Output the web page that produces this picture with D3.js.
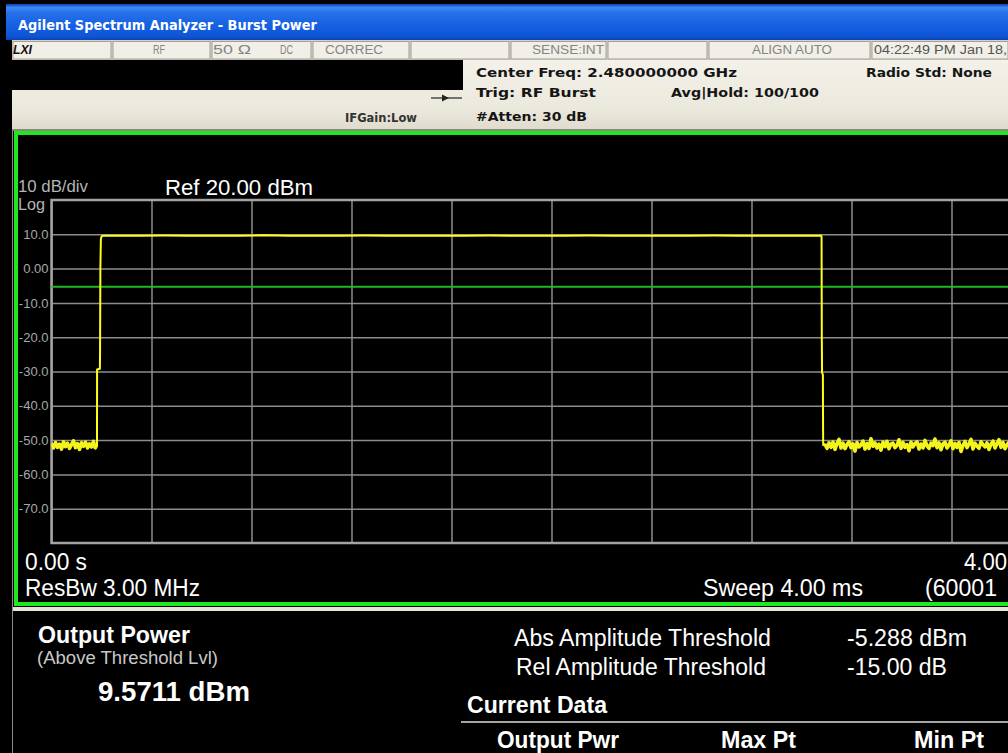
<!DOCTYPE html>
<html><head><meta charset="utf-8">
<script src="https://cdn.jsdelivr.net/npm/d3@7"></script>
<style>html,body{margin:0;padding:0;background:#000;overflow:hidden}svg{display:block}</style>
</head><body><svg id="c" width="1008" height="753"></svg>
<script>
// ---------------- data ----------------
const timeTicksMs = [0, 0.4, 0.8, 1.2, 1.6, 2.0, 2.4, 2.8, 3.2, 3.6, 4.0];
const ampTicksDbm = [10, 0, -10, -20, -30, -40, -50, -60, -70];
const ampTickLabels = ["10.0", "0.00", "-10.0", "-20.0", "-30.0", "-40.0", "-50.0", "-60.0", "-70.0"];
const refLevelDbm = 20;
const bottomLevelDbm = -80;
const sweepMs = 4.0;
const thresholdDbm = -5.288;
const sampleStepMs = 0.008;

// noise floor before the burst (starts at 0 ms)
const noiseLeftDbm = [-51.0, -52.3, -50.7, -52.1, -51.2, -52.6, -50.5, -51.9, -50.9, -52.4, -51.3, -50.2,
  -52.2, -51.0, -52.7, -50.8, -51.8, -50.6, -52.3, -51.1, -52.0, -50.4, -52.5];
// rising edge
const riseTimeMs = [0.182, 0.1823, 0.1935, 0.1942, 0.1955, 0.1975, 0.2005, 0.205];
const riseDbm = [-51.8, -29.4, -29.2, -25.0, 0.0, 8.6, 9.4, 9.6];
// burst plateau (from 0.25 ms every 0.1 ms)
const plateauStartMs = 0.25;
const plateauStepMs = 0.1;
const plateauDbm = [9.6, 9.55, 9.65, 9.6, 9.55, 9.6, 9.7, 9.55, 9.6, 9.6, 9.65, 9.55, 9.6, 9.6, 9.55,
  9.65, 9.6, 9.55, 9.6, 9.65, 9.6, 9.55, 9.6, 9.6, 9.65, 9.55, 9.6, 9.6, 9.55];
// falling edge
const fallTimeMs = [3.079, 3.0803, 3.0812, 3.0822, 3.0855, 3.0862, 3.0868, 3.09];
const fallDbm = [9.6, 9.2, -20.0, -30.3, -30.9, -45.0, -51.5, -51.2];
// noise floor after the burst (from 3.094 ms)
const noiseRightStartMs = 3.094;
const noiseRightDbm = [-51.2, -52.4, -50.8, -52.1, -50.6, -52.7, -51.0, -49.8, -52.3, -50.9,
  -52.5, -51.3, -50.5, -52.2, -51.1, -53.2, -50.7, -52.0, -51.4, -50.3,
  -52.6, -51.0, -52.4, -49.6, -51.8, -50.8, -52.3, -51.2, -52.9, -50.6,
  -51.9, -50.4, -52.5, -51.1, -50.9, -52.2, -51.5, -49.9, -52.4, -50.7,
  -52.1, -51.3, -53.1, -50.6, -52.0, -51.0, -50.5, -52.6, -51.2, -52.3,
  -50.1, -51.7, -52.4, -50.9, -51.6, -49.7, -52.2, -50.8, -52.8, -51.1,
  -50.6, -52.3, -51.4, -50.2, -52.5, -51.0, -52.1, -50.7, -53.3, -51.5,
  -50.4, -52.2, -51.1, -49.8, -52.6, -50.9, -51.8, -52.4, -50.5, -51.3,
  -52.0, -50.8, -52.7, -51.2, -50.3, -52.3, -51.0, -49.9, -52.1, -50.7,
  -52.5, -51.4, -50.6, -53.0, -51.1, -52.2, -50.4, -51.9, -52.4, -50.8,
  -51.6, -50.2, -52.3, -51.0, -52.6, -50.7, -51.8, -49.7, -52.1, -51.3,
  -50.6, -52.4, -51.0, -52.2, -50.9];

const statusCells = [12, 112, 211, 312, 410, 510, 607, 708, 871, 1009];

// ---------------- build ----------------
const W = 1008, H = 753;
const svg = d3.select("#c");
const defs = svg.append("defs");
const ARIAL = "'Liberation Sans', Arial, sans-serif";
const TAHOMA = "'DejaVu Sans', Verdana, sans-serif";

function txt(str, x, y, o) {
  const t = svg.append("text").attr("x", x).attr("y", y).text(str)
    .attr("fill", o.fill || "#fff")
    .style("font-family", o.family || ARIAL)
    .style("font-size", o.size + "px")
    .style("font-weight", o.weight || "normal")
    .style("font-style", o.style || "normal")
    .attr("text-anchor", o.anchor || "start");
  if (o.len) t.attr("textLength", o.len).attr("lengthAdjust", "spacingAndGlyphs");
  return t;
}

// background
svg.append("rect").attr("width", W).attr("height", H).attr("fill", "#000");

// title bar
const tg = defs.append("linearGradient").attr("id", "tg").attr("x1", 0).attr("y1", 0).attr("x2", 0).attr("y2", 1);
[[0, "#0b3fb8"], [0.1, "#3b8af4"], [0.25, "#2670ea"], [0.6, "#1560e2"], [0.9, "#0e55d6"], [1, "#0a44b4"]]
  .forEach(s => tg.append("stop").attr("offset", s[0]).attr("stop-color", s[1]));
svg.append("rect").attr("x", 6).attr("y", 4).attr("width", W - 6).attr("height", 36).attr("fill", "url(#tg)");
txt("Agilent Spectrum Analyzer - Burst Power", 18, 30, {size: 14, weight: "bold", family: TAHOMA, len: 299});

// status bar
svg.append("rect").attr("x", 12).attr("y", 40).attr("width", W - 12).attr("height", 20).attr("fill", "#d6d3c6");
for (let i = 0; i < statusCells.length - 1; i++) {
  svg.append("rect").attr("x", statusCells[i] + 1).attr("y", 41.5)
    .attr("width", statusCells[i + 1] - statusCells[i] - 2).attr("height", 17.5)
    .attr("fill", "#f1efe7").attr("stroke", "#a19f98").attr("stroke-width", 1);
}
const sCol = "#858585";
txt("LXI", 13, 54, {size: 13, weight: "bold", style: "italic", fill: "#111", len: 19});
txt("RF", 153, 54, {size: 12, fill: sCol, len: 12});
txt("50 Ω", 213, 54, {size: 12, fill: sCol, len: 38});
txt("DC", 280, 54, {size: 12, fill: sCol, len: 13});
txt("CORREC", 325, 54, {size: 12, fill: sCol, len: 58});
txt("SENSE:INT", 532, 54, {size: 12, fill: sCol, len: 72});
txt("ALIGN AUTO", 752, 54, {size: 12, fill: sCol, len: 80});
txt("04:22:49 PM Jan 18,", 874, 54, {size: 12, fill: "#555", len: 133});

// settings panel
const bg = defs.append("linearGradient").attr("id", "bg").attr("x1", 0).attr("y1", 0).attr("x2", 0).attr("y2", 1);
[[0, "#f3f1e9"], [0.7, "#ebe8dc"], [1, "#dedbcd"]].forEach(s => bg.append("stop").attr("offset", s[0]).attr("stop-color", s[1]));
svg.append("rect").attr("x", 12).attr("y", 60).attr("width", W - 12).attr("height", 71).attr("fill", "url(#bg)");
svg.append("rect").attr("x", 0).attr("y", 60).attr("width", 463).attr("height", 30).attr("fill", "#000");
svg.append("rect").attr("x", 12).attr("y", 129).attr("width", W - 12).attr("height", 2).attr("fill", "#8a8880");
const hCol = "#151515";
txt("Center Freq: 2.480000000 GHz", 476, 77, {size: 13, weight: "bold", family: TAHOMA, fill: hCol, len: 261});
txt("Trig: RF Burst", 476, 97, {size: 13, weight: "bold", family: TAHOMA, fill: hCol, len: 120});
txt("Avg|Hold: 100/100", 671, 97, {size: 13, weight: "bold", family: TAHOMA, fill: hCol, len: 148});
txt("#Atten: 30 dB", 476, 121, {size: 13, weight: "bold", family: TAHOMA, fill: hCol, len: 111});
txt("Radio Std: None", 866, 77, {size: 13, weight: "bold", family: TAHOMA, fill: hCol, len: 126});
txt("IFGain:Low", 345, 122, {size: 13, weight: "bold", family: TAHOMA, fill: "#333", len: 72});
svg.append("line").attr("x1", 431).attr("x2", 462).attr("y1", 98).attr("y2", 98).attr("stroke", "#222").attr("stroke-width", 1.2);
svg.append("path").attr("d", "M442,94.5 L449,98 L442,101.5 Z").attr("fill", "#222");

// graticule area frame
svg.append("rect").attr("x", 12).attr("y", 131).attr("width", W - 12).attr("height", 480).attr("fill", "#000");
svg.append("rect").attr("x", 16).attr("y", 133).attr("width", 1100).attr("height", 471)
  .attr("fill", "none").attr("stroke", "#1fe81f").attr("stroke-width", 4);
svg.append("rect").attr("x", 12).attr("y", 607).attr("width", W - 12).attr("height", 4).attr("fill", "#e6e4d8");
svg.append("line").attr("x1", 12.5).attr("x2", 12.5).attr("y1", 131).attr("y2", H).attr("stroke", "#8a8a8a").attr("stroke-width", 1);

// scales
const x = d3.scaleLinear().domain([0, sweepMs]).range([51.5, 1051.5]);
const y = d3.scaleLinear().domain([bottomLevelDbm, refLevelDbm]).range([543, 200]);
const x0 = x.range()[0];
const plotW = x.range()[1] - x0;
const plotH = y.range()[0] - y.range()[1];

defs.append("clipPath").attr("id", "pc").append("rect")
  .attr("x", x0).attr("y", y.range()[1]).attr("width", W - x0).attr("height", plotH);

// grid via axes
const gX = svg.append("g").attr("transform", `translate(0,${y.range()[0]})`)
  .call(d3.axisBottom(x).tickValues(timeTicksMs).tickSize(-plotH).tickFormat(""));
gX.select(".domain").remove();
gX.selectAll(".tick line").attr("stroke", "#8c8c8c").attr("stroke-width", 1.5);

const gY = svg.append("g").attr("transform", `translate(${x0},0)`)
  .call(d3.axisLeft(y).tickValues(ampTicksDbm).tickSize(-plotW).tickPadding(3)
    .tickFormat((d, i) => ampTickLabels[i]));
gY.select(".domain").remove();
gY.selectAll(".tick line").attr("stroke", "#8c8c8c").attr("stroke-width", 1.5);
gY.selectAll(".tick text").attr("fill", "#a8a8a8").style("font-family", ARIAL).style("font-size", "13px");

// frame
svg.append("rect").attr("x", x0).attr("y", y.range()[1]).attr("width", plotW).attr("height", plotH)
  .attr("fill", "none").attr("stroke", "#a3a3a3").attr("stroke-width", 2.5);

// threshold line
svg.append("line").attr("x1", x0).attr("x2", x.range()[1])
  .attr("y1", y(thresholdDbm)).attr("y2", y(thresholdDbm))
  .attr("stroke", "#1fb81f").attr("stroke-width", 2);

// trace
const noiseL = noiseLeftDbm.map((v, i) => ({t: i * sampleStepMs, v}));
const noiseR = noiseRightDbm.map((v, i) => ({t: noiseRightStartMs + i * sampleStepMs, v}));
const trace = [];
noiseL.forEach(d => trace.push(d));
riseTimeMs.forEach((t, i) => trace.push({t, v: riseDbm[i]}));
plateauDbm.forEach((v, i) => trace.push({t: plateauStartMs + i * plateauStepMs, v}));
fallTimeMs.forEach((t, i) => trace.push({t, v: fallDbm[i]}));
noiseR.forEach(d => trace.push(d));

const line = d3.line().x(d => x(d.t)).y(d => y(d.v));
const tr = svg.append("g").attr("clip-path", "url(#pc)");
tr.append("path").datum(trace)
  .attr("fill", "none").attr("stroke", "#ffff1a").attr("stroke-width", 2).attr("stroke-linejoin", "round")
  .attr("d", line);
// noise floor drawn heavier, as the averaged trace appears as a solid band
[noiseL, noiseR].forEach(seg => tr.append("path").datum(seg)
  .attr("fill", "none").attr("stroke", "#f4f41c").attr("stroke-width", 3.6).attr("stroke-linejoin", "round")
  .attr("d", line));

// graticule annotations
txt("10 dB/div", 18, 192, {size: 16, fill: "#b4b4b4", len: 70});
txt("Log", 18, 210, {size: 16, fill: "#b4b4b4", len: 27});
txt("Ref 20.00 dBm", 165, 195, {size: 22, fill: "#fff", len: 148});
txt("0.00 s", 25, 570, {size: 23, fill: "#fff", len: 62});
txt("ResBw 3.00 MHz", 25, 596, {size: 23, fill: "#fff", len: 175});
txt("4.00", 1007, 570, {size: 23, fill: "#fff", anchor: "end", len: 43});
txt("Sweep 4.00 ms", 703, 596, {size: 23, fill: "#fff", len: 160});
txt("(60001", 925, 596, {size: 23, fill: "#fff", len: 72});

// results panel
txt("Output Power", 38, 643, {size: 23, weight: "bold", fill: "#fff", len: 152});
txt("(Above Threshold Lvl)", 37, 664, {size: 18, fill: "#c8c8c8", len: 181});
txt("9.5711 dBm", 98, 701, {size: 27, weight: "bold", fill: "#fff", len: 152});
txt("Abs Amplitude Threshold", 514, 646, {size: 23, fill: "#fff", len: 257});
txt("Rel Amplitude Threshold", 516, 675, {size: 23, fill: "#fff", len: 250});
txt("-5.288 dBm", 847, 646, {size: 23, fill: "#fff", len: 120});
txt("-15.00 dB", 847, 675, {size: 23, fill: "#fff", len: 100});
txt("Current Data", 467, 713, {size: 23, weight: "bold", fill: "#fff", len: 140});
svg.append("line").attr("x1", 461).attr("x2", W).attr("y1", 722).attr("y2", 722).attr("stroke", "#dcdcdc").attr("stroke-width", 1.5);
txt("Output Pwr", 497, 748, {size: 23, weight: "bold", fill: "#fff", len: 122});
txt("Max Pt", 721, 748, {size: 23, weight: "bold", fill: "#fff", len: 75});
txt("Min Pt", 914, 748, {size: 23, weight: "bold", fill: "#fff", len: 70});
</script></body></html>
